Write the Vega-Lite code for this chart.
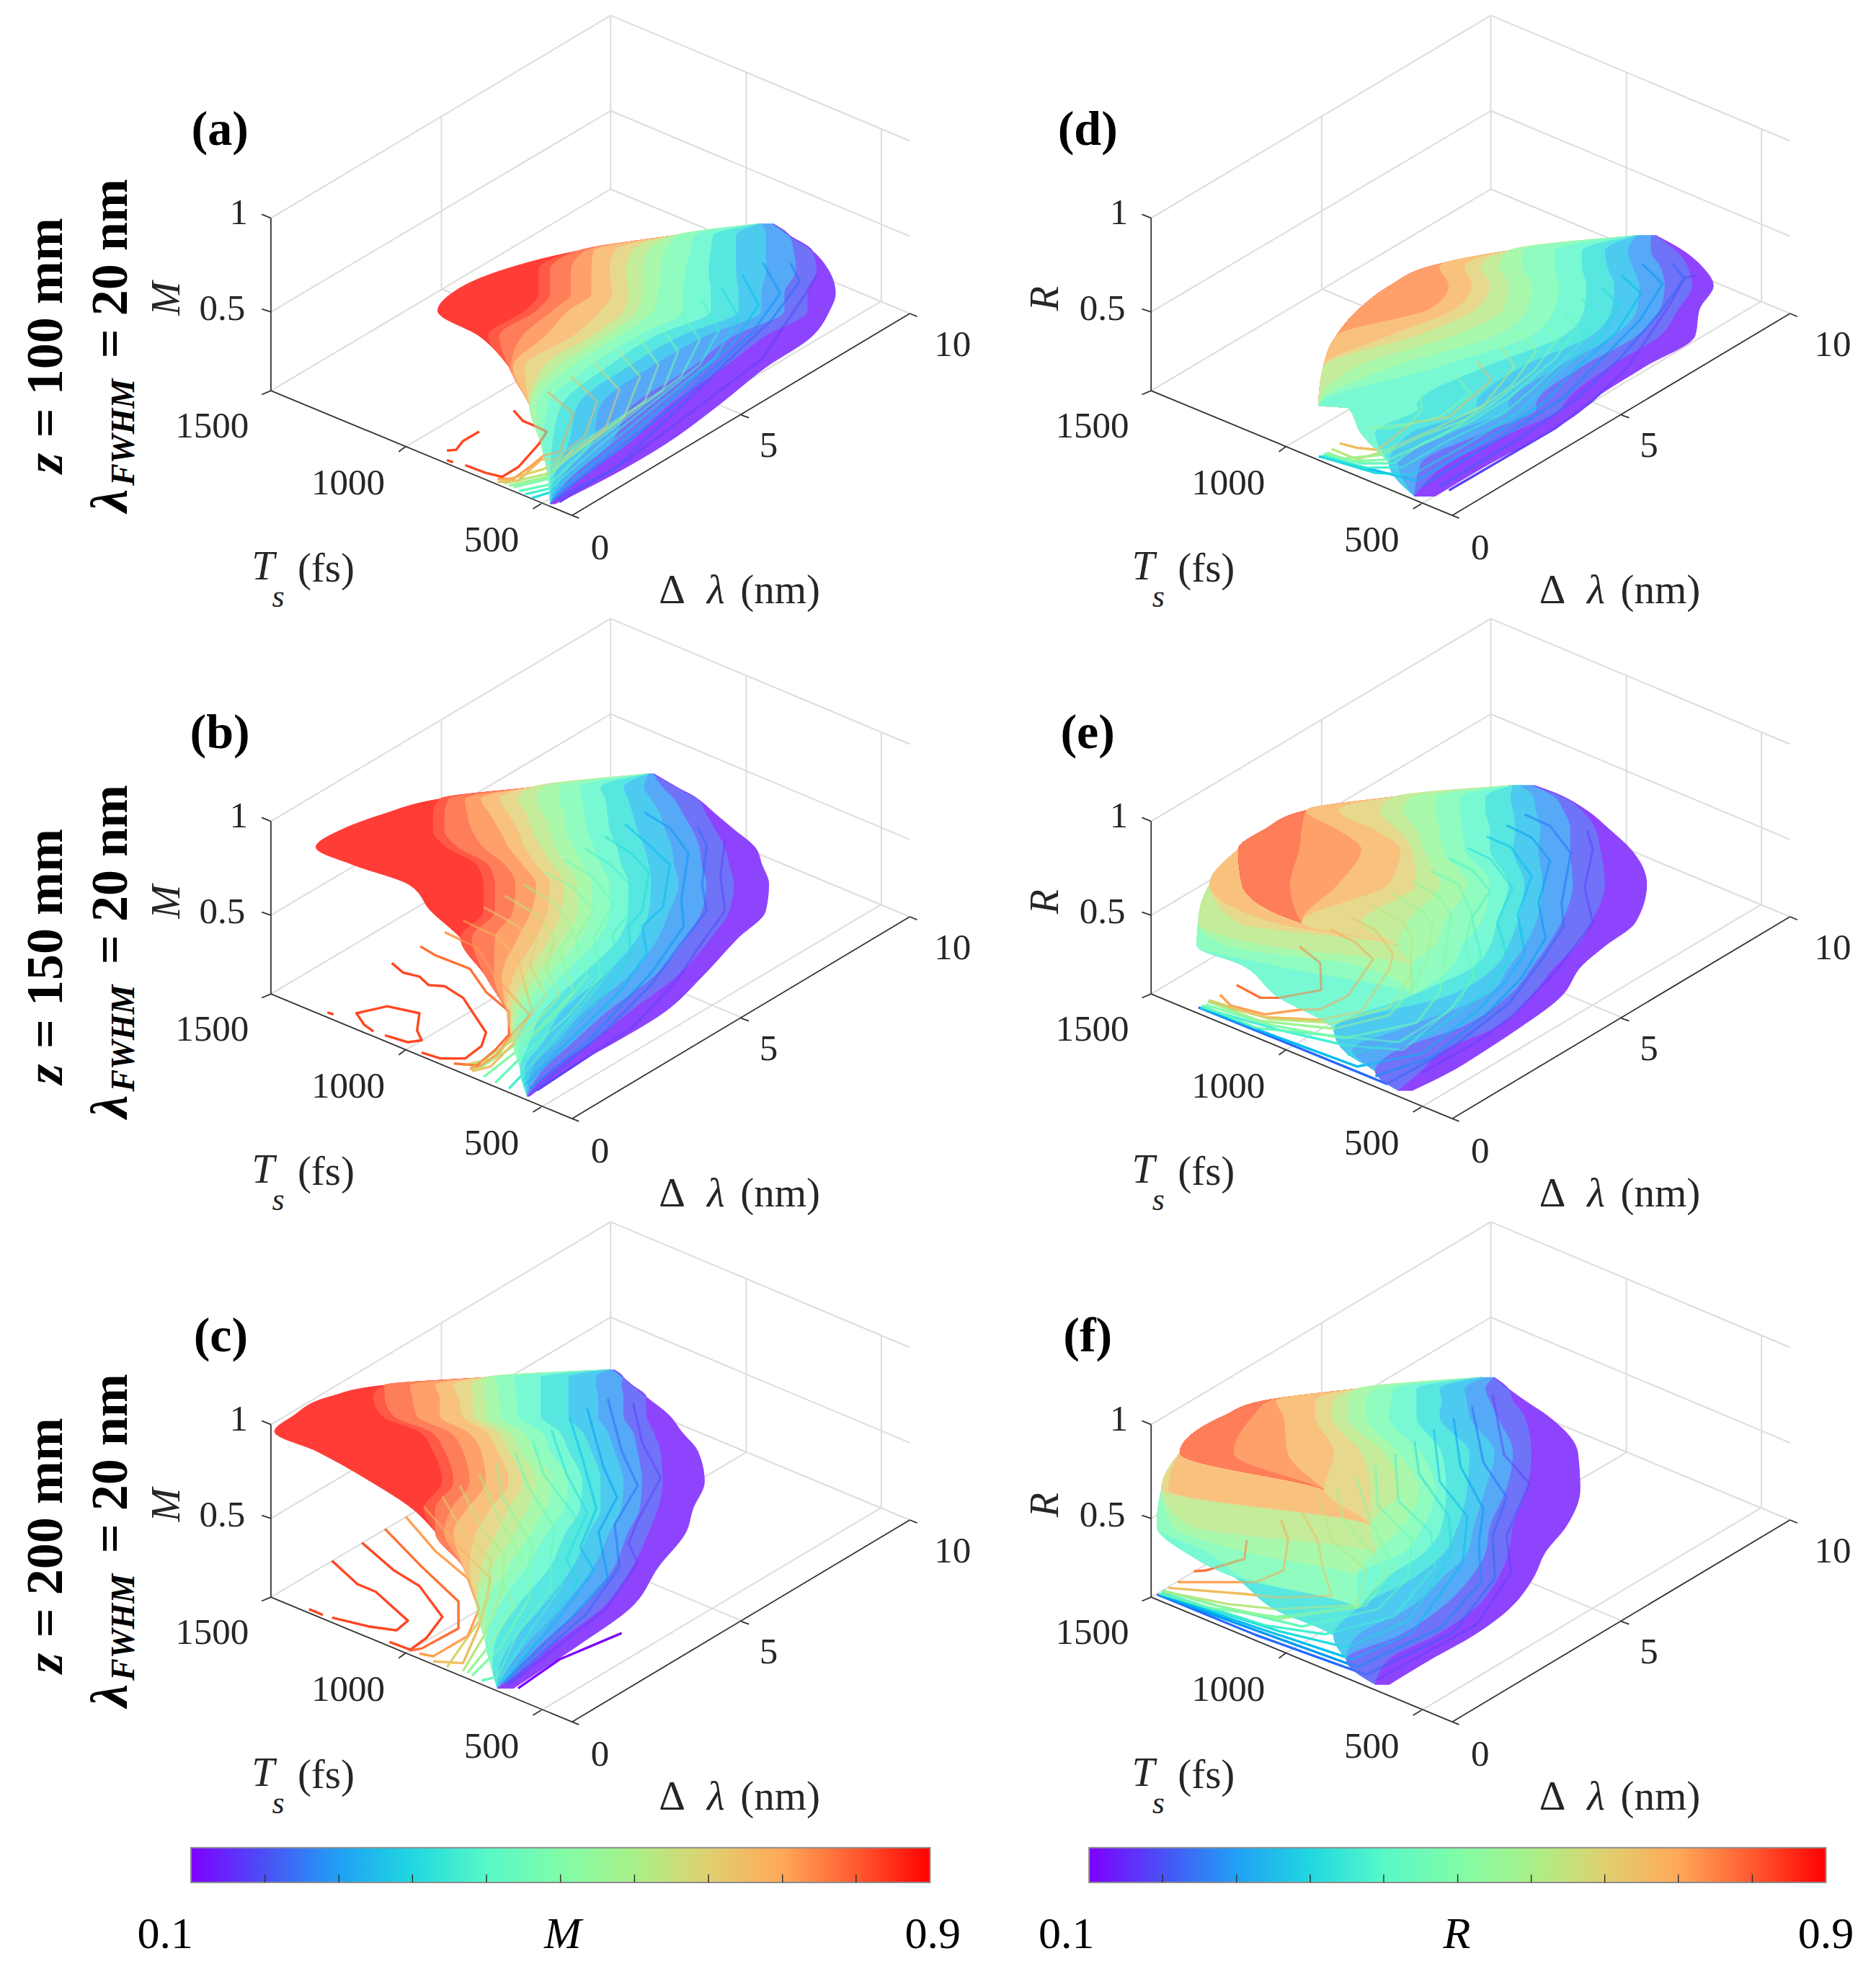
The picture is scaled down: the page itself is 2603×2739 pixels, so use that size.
{
"$schema":"https://vega.github.io/schema/vega-lite/v6.json",
"padding":0,
"background":"white",
"config":{"font":"Liberation Serif","view":{"stroke":null}},
"data":{"values":[
{"p":"a","y":580,"h86":1135,"hb":1135,"i78":1135,"ib":1135,"j72":1135,"k66":1135,"l60":1135,"m54":1135,"n48":1135,"o42":1135,"p36":1135,"q30":1135,"r24":1140,"s18":1165,"t12":1165,"z00":1165},
{"p":"a","y":610,"h86":950,"hb":950,"i78":950,"ib":950,"j72":950,"k66":950,"l60":950,"m54":950,"n48":960,"o42":995,"p36":1035,"q30":1085,"r24":1150,"s18":1200,"t12":1200,"z00":1200},
{"p":"a","y":650,"h86":740,"hb":740,"i78":740,"ib":757,"j72":775,"k66":820,"l60":860,"m54":895,"n48":930,"o42":985,"p36":1030,"q30":1085,"r24":1150,"s18":1210,"t12":1250,"z00":1250},
{"p":"a","y":700,"h86":575,"hb":655,"i78":680,"ib":725,"j72":770,"k66":810,"l60":845,"m54":880,"n48":920,"o42":975,"p36":1025,"q30":1085,"r24":1150,"s18":1215,"t12":1260,"z00":1285},
{"p":"a","y":760,"h86":465,"hb":655,"i78":680,"ib":725,"j72":770,"k66":815,"l60":850,"m54":880,"n48":915,"o42":970,"p36":1030,"q30":1090,"r24":1140,"s18":1190,"t12":1240,"z00":1300},
{"p":"a","y":805,"h86":435,"hb":625,"i78":650,"ib":685,"j72":720,"k66":790,"l60":840,"m54":870,"n48":905,"o42":970,"p36":1030,"q30":1090,"r24":1140,"s18":1190,"t12":1240,"z00":1287},
{"p":"a","y":870,"h86":525,"hb":545,"i78":570,"ib":620,"j72":670,"k66":730,"l60":770,"m54":800,"n48":830,"o42":870,"p36":910,"q30":965,"r24":1020,"s18":1080,"t12":1150,"z00":1250},
{"p":"a","y":950,"h86":590,"hb":590,"i78":590,"ib":595,"j72":600,"k66":625,"l60":665,"m54":695,"n48":725,"o42":765,"p36":805,"q30":850,"r24":900,"s18":990,"t12":1060,"z00":1150},
{"p":"a","y":1050,"h86":635,"hb":635,"i78":635,"ib":635,"j72":635,"k66":635,"l60":635,"m54":635,"n48":650,"o42":675,"p36":705,"q30":740,"r24":790,"s18":860,"t12":940,"z00":1045},
{"p":"a","y":1150,"h86":660,"hb":660,"i78":660,"ib":660,"j72":660,"k66":660,"l60":660,"m54":660,"n48":660,"o42":665,"p36":685,"q30":720,"r24":770,"s18":810,"t12":850,"z00":930},
{"p":"a","y":1230,"h86":675,"hb":675,"i78":675,"ib":675,"j72":675,"k66":675,"l60":675,"m54":675,"n48":675,"o42":675,"p36":680,"q30":690,"r24":710,"s18":730,"t12":755,"z00":815},
{"p":"a","y":1305,"h86":680,"hb":680,"i78":680,"ib":680,"j72":680,"k66":680,"l60":680,"m54":680,"n48":680,"o42":680,"p36":680,"q30":680,"r24":680,"s18":680,"t12":680,"z00":690},

{"p":"b","y":442,"h86":895,"hb":895,"i78":895,"ib":895,"j72":895,"k66":895,"l60":895,"m54":895,"n48":895,"o42":895,"p36":895,"q30":895,"r24":895,"s18":905,"t12":905,"z00":905},
{"p":"b","y":477,"h86":640,"hb":640,"i78":640,"ib":640,"j72":640,"k66":640,"l60":640,"m54":665,"n48":700,"o42":745,"p36":790,"q30":840,"r24":885,"s18":925,"t12":955,"z00":955},
{"p":"b","y":507,"h86":440,"hb":440,"i78":460,"ib":495,"j72":530,"k66":570,"l60":610,"m54":650,"n48":700,"o42":750,"p36":800,"q30":850,"r24":900,"s18":950,"t12":1000,"z00":1000},
{"p":"b","y":547,"h86":315,"hb":425,"i78":450,"ib":500,"j72":550,"k66":590,"l60":630,"m54":665,"n48":710,"o42":755,"p36":805,"q30":860,"r24":920,"s18":970,"t12":1020,"z00":1040},
{"p":"b","y":587,"h86":225,"hb":425,"i78":450,"ib":510,"j72":570,"k66":610,"l60":640,"m54":680,"n48":715,"o42":760,"p36":810,"q30":870,"r24":930,"s18":990,"t12":1040,"z00":1080},
{"p":"b","y":632,"h86":170,"hb":455,"i78":480,"ib":535,"j72":590,"k66":625,"l60":660,"m54":690,"n48":730,"o42":775,"p36":825,"q30":885,"r24":945,"s18":1005,"t12":1060,"z00":1125},
{"p":"b","y":677,"h86":250,"hb":520,"i78":545,"ib":582,"j72":620,"k66":650,"l60":685,"m54":715,"n48":750,"o42":790,"p36":835,"q30":895,"r24":950,"s18":1010,"t12":1070,"z00":1140},
{"p":"b","y":727,"h86":370,"hb":535,"i78":560,"ib":605,"j72":650,"k66":680,"l60":710,"m54":740,"n48":770,"o42":810,"p36":850,"q30":900,"r24":960,"s18":1020,"t12":1080,"z00":1155},
{"p":"b","y":797,"h86":420,"hb":535,"i78":560,"ib":600,"j72":640,"k66":675,"l60":705,"m54":740,"n48":770,"o42":810,"p36":850,"q30":895,"r24":940,"s18":1010,"t12":1070,"z00":1148},
{"p":"b","y":867,"h86":485,"hb":485,"i78":510,"ib":560,"j72":610,"k66":650,"l60":680,"m54":710,"n48":745,"o42":785,"p36":830,"q30":870,"r24":915,"s18":975,"t12":1030,"z00":1088},
{"p":"b","y":967,"h86":540,"hb":540,"i78":540,"ib":558,"j72":575,"k66":600,"l60":625,"m54":650,"n48":675,"o42":705,"p36":745,"q30":795,"r24":850,"s18":905,"t12":955,"z00":1010},
{"p":"b","y":1057,"h86":585,"hb":585,"i78":585,"ib":585,"j72":585,"k66":585,"l60":595,"m54":605,"n48":615,"o42":635,"p36":665,"q30":705,"r24":755,"s18":805,"t12":855,"z00":930},
{"p":"b","y":1137,"h86":600,"hb":600,"i78":600,"ib":600,"j72":600,"k66":600,"l60":600,"m54":600,"n48":600,"o42":610,"p36":635,"q30":665,"r24":695,"s18":730,"t12":770,"z00":820},
{"p":"b","y":1207,"h86":615,"hb":615,"i78":615,"ib":615,"j72":615,"k66":615,"l60":615,"m54":615,"n48":615,"o42":615,"p36":615,"q30":625,"r24":640,"s18":665,"t12":685,"z00":715},
{"p":"b","y":1277,"h86":630,"hb":630,"i78":630,"ib":630,"j72":630,"k66":630,"l60":630,"m54":630,"n48":630,"o42":630,"p36":630,"q30":630,"r24":630,"s18":630,"t12":630,"z00":635},

{"p":"c","y":423,"h86":810,"hb":810,"i78":810,"ib":810,"j72":810,"k66":810,"l60":810,"m54":810,"n48":810,"o42":810,"p36":810,"q30":810,"r24":810,"s18":818,"t12":818,"z00":818},
{"p":"c","y":443,"h86":540,"hb":540,"i78":540,"ib":540,"j72":540,"k66":540,"l60":540,"m54":540,"n48":560,"o42":600,"p36":660,"q30":720,"r24":780,"s18":838,"t12":838,"z00":838},
{"p":"c","y":463,"h86":320,"hb":320,"i78":320,"ib":375,"j72":430,"k66":470,"l60":510,"m54":535,"n48":565,"o42":605,"p36":660,"q30":720,"r24":780,"s18":835,"t12":858,"z00":858},
{"p":"c","y":493,"h86":200,"hb":295,"i78":320,"ib":380,"j72":440,"k66":480,"l60":512,"m54":538,"n48":568,"o42":607,"p36":660,"q30":720,"r24":785,"s18":840,"t12":888,"z00":888},
{"p":"c","y":543,"h86":120,"hb":315,"i78":340,"ib":390,"j72":440,"k66":490,"l60":515,"m54":540,"n48":570,"o42":610,"p36":660,"q30":720,"r24":785,"s18":840,"t12":890,"z00":940},
{"p":"c","y":583,"h86":80,"hb":395,"i78":420,"ib":460,"j72":500,"k66":540,"l60":565,"m54":590,"n48":620,"o42":660,"p36":700,"q30":750,"r24":805,"s18":860,"t12":905,"z00":965},
{"p":"c","y":633,"h86":170,"hb":425,"i78":450,"ib":490,"j72":530,"k66":565,"l60":590,"m54":615,"n48":645,"o42":680,"p36":720,"q30":770,"r24":820,"s18":870,"t12":920,"z00":1000},
{"p":"c","y":713,"h86":290,"hb":445,"i78":470,"ib":505,"j72":540,"k66":590,"l60":620,"m54":650,"n48":685,"o42":720,"p36":750,"q30":790,"r24":840,"s18":880,"t12":925,"z00":1015},
{"p":"c","y":783,"h86":380,"hb":405,"i78":430,"ib":465,"j72":500,"k66":550,"l60":590,"m54":630,"n48":670,"o42":710,"p36":745,"q30":790,"r24":835,"s18":875,"t12":915,"z00":990},
{"p":"c","y":843,"h86":430,"hb":430,"i78":430,"ib":450,"j72":470,"k66":520,"l60":565,"m54":605,"n48":640,"o42":675,"p36":715,"q30":765,"r24":810,"s18":850,"t12":895,"z00":975},
{"p":"c","y":933,"h86":490,"hb":490,"i78":490,"ib":490,"j72":490,"k66":505,"l60":530,"m54":555,"n48":590,"o42":630,"p36":680,"q30":730,"r24":775,"s18":820,"t12":860,"z00":915},
{"p":"c","y":1033,"h86":520,"hb":520,"i78":520,"ib":520,"j72":520,"k66":520,"l60":520,"m54":520,"n48":540,"o42":570,"p36":610,"q30":665,"r24":710,"s18":755,"t12":800,"z00":860},
{"p":"c","y":1133,"h86":540,"hb":540,"i78":540,"ib":540,"j72":540,"k66":540,"l60":540,"m54":540,"n48":540,"o42":540,"p36":560,"q30":595,"r24":630,"s18":660,"t12":690,"z00":745},
{"p":"c","y":1193,"h86":552,"hb":552,"i78":552,"ib":552,"j72":552,"k66":552,"l60":552,"m54":552,"n48":552,"o42":552,"p36":555,"q30":570,"r24":590,"s18":610,"t12":630,"z00":670},
{"p":"c","y":1248,"h86":565,"hb":565,"i78":565,"ib":565,"j72":565,"k66":565,"l60":565,"m54":565,"n48":565,"o42":565,"p36":565,"q30":565,"r24":565,"s18":565,"t12":565,"z00":600},

{"p":"d","y":610,"h86":1130,"hb":1130,"i78":1130,"ib":1130,"j72":1130,"k66":1130,"l60":1130,"m54":1130,"n48":1130,"o42":1130,"p36":1130,"q30":1130,"r24":1130,"s18":1160,"t12":1170,"z00":1170},
{"p":"d","y":650,"h86":850,"hb":850,"i78":850,"ib":850,"j72":850,"k66":850,"l60":850,"m54":850,"n48":880,"o42":950,"p36":1010,"q30":1060,"r24":1110,"s18":1160,"t12":1215,"z00":1230},
{"p":"d","y":690,"h86":680,"hb":680,"i78":680,"ib":680,"j72":700,"k66":755,"l60":790,"m54":830,"n48":880,"o42":950,"p36":1010,"q30":1065,"r24":1120,"s18":1180,"t12":1240,"z00":1270},
{"p":"d","y":740,"h86":592,"hb":592,"i78":592,"ib":592,"j72":720,"k66":770,"l60":810,"m54":850,"n48":900,"o42":960,"p36":1020,"q30":1080,"r24":1135,"s18":1190,"t12":1250,"z00":1295},
{"p":"d","y":800,"h86":525,"hb":525,"i78":525,"ib":525,"j72":680,"k66":735,"l60":780,"m54":840,"n48":890,"o42":950,"p36":1015,"q30":1075,"r24":1130,"s18":1180,"t12":1220,"z00":1265},
{"p":"d","y":870,"h86":475,"hb":475,"i78":475,"ib":475,"j72":475,"k66":590,"l60":650,"m54":730,"n48":820,"o42":900,"p36":970,"q30":1030,"r24":1080,"s18":1130,"t12":1180,"z00":1255},
{"p":"d","y":950,"h86":447,"hb":447,"i78":447,"ib":447,"j72":447,"k66":447,"l60":447,"m54":520,"n48":600,"o42":700,"p36":800,"q30":880,"r24":960,"s18":1010,"t12":1070,"z00":1145},
{"p":"d","y":1050,"h86":437,"hb":437,"i78":437,"ib":437,"j72":437,"k66":437,"l60":437,"m54":437,"n48":437,"o42":437,"p36":650,"q30":780,"r24":850,"s18":910,"t12":970,"z00":1020},
{"p":"d","y":1056,"h86":500,"hb":500,"i78":500,"ib":500,"j72":500,"k66":500,"l60":500,"m54":500,"n48":500,"o42":500,"p36":655,"q30":785,"r24":852,"s18":912,"t12":968,"z00":1015},
{"p":"d","y":1120,"h86":528,"hb":528,"i78":528,"ib":528,"j72":528,"k66":528,"l60":528,"m54":528,"n48":528,"o42":528,"p36":560,"q30":640,"r24":730,"s18":800,"t12":860,"z00":935},
{"p":"d","y":1200,"h86":590,"hb":590,"i78":590,"ib":590,"j72":590,"k66":590,"l60":590,"m54":590,"n48":590,"o42":590,"p36":590,"q30":590,"r24":610,"s18":660,"t12":720,"z00":810},
{"p":"d","y":1285,"h86":645,"hb":645,"i78":645,"ib":645,"j72":645,"k66":645,"l60":645,"m54":645,"n48":645,"o42":645,"p36":645,"q30":645,"r24":645,"s18":645,"t12":645,"z00":690},

{"p":"e","y":472,"a36":860,"b42":860,"c48":860,"d54":860,"e60":860,"f66":860,"g72":860,"h86":860,"hb":860,"i78":860,"ib":860,"j72":860,"k66":860,"l60":860,"m54":860,"n48":860,"o42":860,"p36":860,"q30":860,"r24":875,"s18":905,"t12":905,"z00":905},
{"p":"e","y":502,"a36":600,"b42":600,"c48":600,"d54":600,"e60":600,"f66":600,"g72":600,"h86":600,"hb":600,"i78":600,"ib":600,"j72":600,"k66":600,"l60":600,"m54":640,"n48":690,"o42":745,"p36":800,"q30":855,"r24":905,"s18":950,"t12":970,"z00":970},
{"p":"e","y":537,"a36":410,"b42":410,"c48":410,"d54":410,"e60":410,"f66":410,"g72":410,"h86":410,"hb":410,"i78":410,"ib":410,"j72":410,"k66":480,"l60":570,"m54":620,"n48":690,"o42":745,"p36":800,"q30":860,"r24":910,"s18":970,"t12":1010,"z00":1020},
{"p":"e","y":587,"a36":318,"b42":318,"c48":318,"d54":318,"e60":318,"f66":318,"g72":318,"h86":318,"hb":318,"i78":318,"ib":400,"j72":480,"k66":560,"l60":610,"m54":650,"n48":700,"o42":750,"p36":810,"q30":865,"r24":920,"s18":985,"t12":1040,"z00":1070},
{"p":"e","y":637,"a36":262,"b42":262,"c48":262,"d54":262,"e60":262,"f66":262,"g72":262,"h86":262,"hb":262,"i78":262,"ib":395,"j72":530,"k66":615,"l60":640,"m54":665,"n48":705,"o42":755,"p36":810,"q30":860,"r24":915,"s18":985,"t12":1050,"z00":1115},
{"p":"e","y":727,"a36":200,"b42":200,"c48":200,"d54":200,"e60":200,"f66":200,"g72":200,"h86":270,"hb":270,"i78":270,"ib":375,"j72":480,"k66":590,"l60":650,"m54":700,"n48":760,"o42":810,"p36":850,"q30":885,"r24":925,"s18":990,"t12":1060,"z00":1150},
{"p":"e","y":827,"a36":175,"b42":175,"c48":175,"d54":175,"e60":175,"f66":260,"g72":340,"h86":400,"hb":400,"i78":400,"ib":400,"j72":400,"k66":400,"l60":530,"m54":630,"n48":710,"o42":790,"p36":825,"q30":870,"r24":910,"s18":965,"t12":1030,"z00":1125},
{"p":"e","y":887,"a36":172,"b42":172,"c48":172,"d54":240,"e60":330,"f66":610,"g72":610,"h86":610,"hb":610,"i78":610,"ib":610,"j72":610,"k66":610,"l60":610,"m54":610,"n48":690,"o42":750,"p36":810,"q30":850,"r24":885,"s18":935,"t12":1000,"z00":1060},
{"p":"e","y":937,"a36":270,"b42":270,"c48":340,"d54":520,"e60":640,"f66":640,"g72":640,"h86":640,"hb":640,"i78":640,"ib":640,"j72":640,"k66":640,"l60":640,"m54":640,"n48":640,"o42":730,"p36":780,"q30":825,"r24":855,"s18":905,"t12":955,"z00":1010},
{"p":"e","y":1017,"a36":345,"b42":345,"c48":640,"d54":640,"e60":640,"f66":640,"g72":640,"h86":640,"hb":640,"i78":640,"ib":640,"j72":640,"k66":640,"l60":640,"m54":640,"n48":640,"o42":640,"p36":640,"q30":720,"r24":800,"s18":850,"t12":900,"z00":965},
{"p":"e","y":1102,"a36":470,"b42":470,"c48":470,"d54":470,"e60":470,"f66":470,"g72":470,"h86":470,"hb":470,"i78":470,"ib":470,"j72":470,"k66":470,"l60":470,"m54":470,"n48":470,"o42":470,"p36":470,"q30":470,"r24":620,"s18":740,"t12":820,"z00":870},
{"p":"e","y":1157,"a36":490,"b42":490,"c48":490,"d54":490,"e60":490,"f66":490,"g72":490,"h86":490,"hb":490,"i78":490,"ib":490,"j72":490,"k66":490,"l60":490,"m54":490,"n48":490,"o42":490,"p36":490,"q30":490,"r24":510,"s18":610,"t12":710,"z00":800},
{"p":"e","y":1212,"a36":560,"b42":560,"c48":560,"d54":560,"e60":560,"f66":560,"g72":560,"h86":560,"hb":560,"i78":560,"ib":560,"j72":560,"k66":560,"l60":560,"m54":560,"n48":560,"o42":560,"p36":560,"q30":560,"r24":560,"s18":560,"t12":660,"z00":725},
{"p":"e","y":1262,"a36":610,"b42":610,"c48":610,"d54":610,"e60":610,"f66":610,"g72":610,"h86":610,"hb":610,"i78":610,"ib":610,"j72":610,"k66":610,"l60":610,"m54":610,"n48":610,"o42":610,"p36":610,"q30":610,"r24":610,"s18":610,"t12":610,"z00":640},

{"p":"f","y":443,"a36":790,"b42":790,"c48":790,"d54":790,"e60":790,"f66":790,"g72":790,"h86":790,"hb":790,"i78":790,"ib":790,"j72":790,"k66":790,"l60":790,"m54":790,"n48":790,"o42":790,"p36":790,"q30":790,"r24":800,"s18":818,"t12":818,"z00":818},
{"p":"f","y":473,"a36":520,"b42":520,"c48":520,"d54":520,"e60":520,"f66":520,"g72":520,"h86":520,"hb":520,"i78":520,"ib":520,"j72":520,"k66":520,"l60":520,"m54":520,"n48":560,"o42":600,"p36":650,"q30":700,"r24":755,"s18":800,"t12":850,"z00":850},
{"p":"f","y":503,"a36":320,"b42":320,"c48":320,"d54":320,"e60":320,"f66":320,"g72":320,"h86":320,"hb":320,"i78":320,"ib":332,"j72":345,"k66":430,"l60":470,"m54":500,"n48":540,"o42":595,"p36":650,"q30":705,"r24":760,"s18":810,"t12":860,"z00":885},
{"p":"f","y":543,"a36":230,"b42":230,"c48":230,"d54":230,"e60":230,"f66":230,"g72":230,"h86":230,"hb":230,"i78":230,"ib":295,"j72":360,"k66":430,"l60":465,"m54":500,"n48":540,"o42":590,"p36":650,"q30":700,"r24":765,"s18":825,"t12":885,"z00":935},
{"p":"f","y":638,"a36":135,"b42":135,"c48":135,"d54":135,"e60":135,"f66":135,"g72":135,"h86":135,"hb":135,"i78":135,"ib":252,"j72":370,"k66":470,"l60":530,"m54":580,"n48":610,"o42":660,"p36":705,"q30":765,"r24":820,"s18":860,"t12":900,"z00":1000},
{"p":"f","y":733,"a36":95,"b42":95,"c48":95,"d54":95,"e60":95,"f66":95,"g72":110,"h86":450,"hb":450,"i78":450,"ib":450,"j72":450,"k66":450,"l60":550,"m54":615,"n48":655,"o42":690,"p36":715,"q30":760,"r24":800,"s18":845,"t12":890,"z00":1005},
{"p":"f","y":828,"a36":85,"b42":85,"c48":85,"d54":120,"e60":160,"f66":550,"g72":550,"h86":550,"hb":550,"i78":550,"ib":550,"j72":550,"k66":550,"l60":550,"m54":550,"n48":620,"o42":665,"p36":705,"q30":740,"r24":775,"s18":810,"t12":860,"z00":975},
{"p":"f","y":898,"a36":150,"b42":150,"c48":200,"d54":290,"e60":560,"f66":560,"g72":560,"h86":560,"hb":560,"i78":560,"ib":560,"j72":560,"k66":560,"l60":560,"m54":560,"n48":560,"o42":620,"p36":665,"q30":710,"r24":760,"s18":800,"t12":850,"z00":928},
{"p":"f","y":958,"a36":250,"b42":250,"c48":270,"d54":520,"e60":520,"f66":520,"g72":520,"h86":520,"hb":520,"i78":520,"ib":520,"j72":520,"k66":520,"l60":520,"m54":520,"n48":520,"o42":520,"p36":590,"q30":650,"r24":710,"s18":770,"t12":830,"z00":905},
{"p":"f","y":1043,"a36":340,"b42":520,"c48":520,"d54":520,"e60":520,"f66":520,"g72":520,"h86":520,"hb":520,"i78":520,"ib":520,"j72":520,"k66":520,"l60":520,"m54":520,"n48":520,"o42":520,"p36":520,"q30":520,"r24":630,"s18":700,"t12":775,"z00":850},
{"p":"f","y":1113,"a36":470,"b42":470,"c48":470,"d54":470,"e60":470,"f66":470,"g72":470,"h86":470,"hb":470,"i78":470,"ib":470,"j72":470,"k66":470,"l60":470,"m54":470,"n48":470,"o42":470,"p36":470,"q30":470,"r24":520,"s18":610,"t12":690,"z00":770},
{"p":"f","y":1173,"a36":497,"b42":497,"c48":497,"d54":497,"e60":497,"f66":497,"g72":497,"h86":497,"hb":497,"i78":497,"ib":497,"j72":497,"k66":497,"l60":497,"m54":497,"n48":497,"o42":497,"p36":497,"q30":497,"r24":497,"s18":497,"t12":590,"z00":680},
{"p":"f","y":1238,"a36":560,"b42":560,"c48":560,"d54":560,"e60":560,"f66":560,"g72":560,"h86":560,"hb":560,"i78":560,"ib":560,"j72":560,"k66":560,"l60":560,"m54":560,"n48":560,"o42":560,"p36":560,"q30":560,"r24":560,"s18":560,"t12":560,"z00":590},

{"p":"a","c":15,"x":1260,"y":712},{"p":"a","c":15,"x":1230,"y":770},{"p":"a","c":15,"x":1140,"y":930},{"p":"a","c":15,"x":850,"y":1190},{"p":"a","c":15,"x":700,"y":1300},
{"p":"a","c":20,"x":1203,"y":682},{"p":"a","c":20,"x":1222,"y":730},{"p":"a","c":20,"x":1160,"y":830},{"p":"a","c":20,"x":1000,"y":1010},{"p":"a","c":20,"x":820,"y":1215},{"p":"a","c":20,"x":690,"y":1295},
{"p":"a","c":25,"x":1142,"y":680},{"p":"a","c":25,"x":1180,"y":760},{"p":"a","c":25,"x":1120,"y":860},{"p":"a","c":25,"x":950,"y":1050},{"p":"a","c":25,"x":685,"y":1295},
{"p":"a","c":30,"x":1097,"y":710},{"p":"a","c":30,"x":1133,"y":790},{"p":"a","c":30,"x":1080,"y":885},{"p":"a","c":30,"x":900,"y":1080},{"p":"a","c":30,"x":685,"y":1285},
{"p":"a","c":35,"x":1052,"y":745},{"p":"a","c":35,"x":1090,"y":822},{"p":"a","c":35,"x":1040,"y":925},{"p":"a","c":35,"x":850,"y":1110},{"p":"a","c":35,"x":680,"y":1275},{"p":"a","c":35,"x":640,"y":1290},
{"p":"a","c":40,"x":1008,"y":775},{"p":"a","c":40,"x":1047,"y":855},{"p":"a","c":40,"x":1005,"y":945},{"p":"a","c":40,"x":800,"y":1140},{"p":"a","c":40,"x":680,"y":1265},{"p":"a","c":40,"x":625,"y":1280},
{"p":"a","c":45,"x":963,"y":808},{"p":"a","c":45,"x":1005,"y":880},{"p":"a","c":45,"x":965,"y":975},{"p":"a","c":45,"x":760,"y":1160},{"p":"a","c":45,"x":678,"y":1255},{"p":"a","c":45,"x":612,"y":1272},
{"p":"a","c":50,"x":918,"y":840},{"p":"a","c":50,"x":958,"y":910},{"p":"a","c":50,"x":925,"y":1010},{"p":"a","c":50,"x":730,"y":1160},{"p":"a","c":50,"x":676,"y":1240},{"p":"a","c":50,"x":600,"y":1262},
{"p":"a","c":55,"x":870,"y":870},{"p":"a","c":55,"x":915,"y":945},{"p":"a","c":55,"x":885,"y":1040},{"p":"a","c":55,"x":715,"y":1190},{"p":"a","c":55,"x":672,"y":1235},{"p":"a","c":55,"x":590,"y":1258},
{"p":"a","c":60,"x":825,"y":905},{"p":"a","c":60,"x":875,"y":975},{"p":"a","c":60,"x":840,"y":1080},{"p":"a","c":60,"x":700,"y":1200},{"p":"a","c":60,"x":670,"y":1228},{"p":"a","c":60,"x":580,"y":1252},
{"p":"a","c":65,"x":775,"y":940},{"p":"a","c":65,"x":830,"y":1010},{"p":"a","c":65,"x":800,"y":1110},{"p":"a","c":65,"x":690,"y":1200},{"p":"a","c":65,"x":665,"y":1215},{"p":"a","c":65,"x":570,"y":1248},
{"p":"a","c":70,"x":725,"y":975},{"p":"a","c":70,"x":782,"y":1040},{"p":"a","c":70,"x":755,"y":1130},{"p":"a","c":70,"x":690,"y":1190},{"p":"a","c":70,"x":660,"y":1190},{"p":"a","c":70,"x":610,"y":1245},{"p":"a","c":70,"x":565,"y":1248},
{"p":"a","c":75,"x":675,"y":1015},{"p":"a","c":75,"x":730,"y":1072},{"p":"a","c":75,"x":700,"y":1170},{"p":"a","c":75,"x":665,"y":1180},{"p":"a","c":75,"x":640,"y":1205},{"p":"a","c":75,"x":600,"y":1240},{"p":"a","c":75,"x":565,"y":1240},
{"p":"a","c":85,"x":600,"y":1063},{"p":"a","c":85,"x":620,"y":1090},{"p":"a","c":85,"x":650,"y":1105},{"p":"a","c":85,"x":672,"y":1118},{"p":"a","c":85,"x":655,"y":1150},{"p":"a","c":85,"x":610,"y":1210},{"p":"a","c":85,"x":575,"y":1235},{"p":"a","c":85,"x":540,"y":1225},{"p":"a","c":85,"x":495,"y":1205},
{"p":"a","c":85.1,"x":455,"y":1167},{"p":"a","c":85.1,"x":475,"y":1165},{"p":"a","c":85.1,"x":490,"y":1142},{"p":"a","c":85.1,"x":525,"y":1118},
{"p":"a","c":85.2,"x":455,"y":1192},{"p":"a","c":85.2,"x":468,"y":1197},

{"p":"b","c":15,"x":1060,"y":612},{"p":"b","c":15,"x":1050,"y":707},{"p":"b","c":15,"x":1060,"y":797},{"p":"b","c":15,"x":1005,"y":887},{"p":"b","c":15,"x":955,"y":977},{"p":"b","c":15,"x":860,"y":1097},{"p":"b","c":15,"x":650,"y":1262},
{"p":"b","c":20,"x":1000,"y":579},{"p":"b","c":20,"x":1020,"y":627},{"p":"b","c":20,"x":1010,"y":727},{"p":"b","c":20,"x":1020,"y":797},{"p":"b","c":20,"x":960,"y":887},{"p":"b","c":20,"x":900,"y":987},{"p":"b","c":20,"x":800,"y":1107},{"p":"b","c":20,"x":640,"y":1267},
{"p":"b","c":25,"x":885,"y":542},{"p":"b","c":25,"x":940,"y":582},{"p":"b","c":25,"x":980,"y":647},{"p":"b","c":25,"x":965,"y":767},{"p":"b","c":25,"x":970,"y":837},{"p":"b","c":25,"x":900,"y":957},{"p":"b","c":25,"x":760,"y":1137},{"p":"b","c":25,"x":635,"y":1257},
{"p":"b","c":30,"x":842,"y":572},{"p":"b","c":30,"x":895,"y":627},{"p":"b","c":30,"x":940,"y":677},{"p":"b","c":30,"x":925,"y":787},{"p":"b","c":30,"x":880,"y":837},{"p":"b","c":30,"x":890,"y":907},{"p":"b","c":30,"x":830,"y":1007},{"p":"b","c":30,"x":700,"y":1157},{"p":"b","c":30,"x":625,"y":1247},
{"p":"b","c":35,"x":798,"y":604},{"p":"b","c":35,"x":855,"y":647},{"p":"b","c":35,"x":895,"y":697},{"p":"b","c":35,"x":880,"y":797},{"p":"b","c":35,"x":850,"y":837},{"p":"b","c":35,"x":855,"y":907},{"p":"b","c":35,"x":800,"y":1007},{"p":"b","c":35,"x":660,"y":1187},{"p":"b","c":35,"x":620,"y":1237},
{"p":"b","c":40,"x":755,"y":635},{"p":"b","c":40,"x":810,"y":677},{"p":"b","c":40,"x":860,"y":737},{"p":"b","c":40,"x":850,"y":807},{"p":"b","c":40,"x":815,"y":857},{"p":"b","c":40,"x":825,"y":927},{"p":"b","c":40,"x":760,"y":1027},{"p":"b","c":40,"x":630,"y":1207},{"p":"b","c":40,"x":590,"y":1257},
{"p":"b","c":45,"x":712,"y":665},{"p":"b","c":45,"x":770,"y":707},{"p":"b","c":45,"x":818,"y":777},{"p":"b","c":45,"x":775,"y":867},{"p":"b","c":45,"x":790,"y":967},{"p":"b","c":45,"x":720,"y":1067},{"p":"b","c":45,"x":615,"y":1177},{"p":"b","c":45,"x":560,"y":1242},
{"p":"b","c":50,"x":668,"y":697},{"p":"b","c":50,"x":730,"y":737},{"p":"b","c":50,"x":775,"y":797},{"p":"b","c":50,"x":735,"y":867},{"p":"b","c":50,"x":760,"y":967},{"p":"b","c":50,"x":690,"y":1067},{"p":"b","c":50,"x":610,"y":1157},{"p":"b","c":50,"x":535,"y":1227},
{"p":"b","c":55,"x":622,"y":729},{"p":"b","c":55,"x":690,"y":777},{"p":"b","c":55,"x":730,"y":847},{"p":"b","c":55,"x":700,"y":897},{"p":"b","c":55,"x":730,"y":1007},{"p":"b","c":55,"x":650,"y":1107},{"p":"b","c":55,"x":600,"y":1147},{"p":"b","c":55,"x":515,"y":1212},
{"p":"b","c":60,"x":580,"y":757},{"p":"b","c":60,"x":650,"y":807},{"p":"b","c":60,"x":690,"y":867},{"p":"b","c":60,"x":670,"y":947},{"p":"b","c":60,"x":700,"y":1017},{"p":"b","c":60,"x":640,"y":1097},{"p":"b","c":60,"x":595,"y":1135},{"p":"b","c":60,"x":505,"y":1205},
{"p":"b","c":65,"x":535,"y":787},{"p":"b","c":65,"x":610,"y":837},{"p":"b","c":65,"x":650,"y":877},{"p":"b","c":65,"x":635,"y":937},{"p":"b","c":65,"x":670,"y":1017},{"p":"b","c":65,"x":625,"y":1085},{"p":"b","c":65,"x":560,"y":1177},{"p":"b","c":65,"x":490,"y":1197},
{"p":"b","c":70,"x":490,"y":822},{"p":"b","c":70,"x":570,"y":867},{"p":"b","c":70,"x":610,"y":927},{"p":"b","c":70,"x":640,"y":1057},{"p":"b","c":70,"x":600,"y":1140},{"p":"b","c":70,"x":550,"y":1200},{"p":"b","c":70,"x":510,"y":1212},
{"p":"b","c":75,"x":450,"y":852},{"p":"b","c":75,"x":520,"y":892},{"p":"b","c":75,"x":560,"y":967},{"p":"b","c":75,"x":635,"y":1067},{"p":"b","c":75,"x":595,"y":1117},{"p":"b","c":75,"x":565,"y":1167},{"p":"b","c":75,"x":530,"y":1197},{"p":"b","c":75,"x":505,"y":1207},
{"p":"b","c":80,"x":397,"y":889},{"p":"b","c":80,"x":430,"y":912},{"p":"b","c":80,"x":505,"y":947},{"p":"b","c":80,"x":540,"y":1007},{"p":"b","c":80,"x":590,"y":1057},{"p":"b","c":80,"x":590,"y":1117},{"p":"b","c":80,"x":560,"y":1157},{"p":"b","c":80,"x":520,"y":1197},{"p":"b","c":80,"x":470,"y":1192},
{"p":"b","c":85,"x":335,"y":932},{"p":"b","c":85,"x":360,"y":957},{"p":"b","c":85,"x":395,"y":967},{"p":"b","c":85,"x":415,"y":989},{"p":"b","c":85,"x":450,"y":992},{"p":"b","c":85,"x":490,"y":1022},{"p":"b","c":85,"x":515,"y":1067},{"p":"b","c":85,"x":540,"y":1112},{"p":"b","c":85,"x":530,"y":1147},{"p":"b","c":85,"x":495,"y":1179},{"p":"b","c":85,"x":440,"y":1179},{"p":"b","c":85,"x":400,"y":1164},
{"p":"b","c":85.1,"x":295,"y":1109},{"p":"b","c":85.1,"x":275,"y":1092},{"p":"b","c":85.1,"x":258,"y":1062},{"p":"b","c":85.1,"x":325,"y":1044},{"p":"b","c":85.1,"x":395,"y":1062},{"p":"b","c":85.1,"x":390,"y":1107},{"p":"b","c":85.1,"x":400,"y":1132},{"p":"b","c":85.1,"x":370,"y":1137},{"p":"b","c":85.1,"x":320,"y":1119},
{"p":"b","c":85.2,"x":195,"y":1060},{"p":"b","c":85.2,"x":208,"y":1065},

{"p":"c","c":10,"x":610,"y":1248},{"p":"c","c":10,"x":700,"y":1173},{"p":"c","c":10,"x":760,"y":1143},{"p":"c","c":10,"x":835,"y":1105},
{"p":"c","c":15,"x":860,"y":510},{"p":"c","c":15,"x":880,"y":613},{"p":"c","c":15,"x":920,"y":703},{"p":"c","c":15,"x":870,"y":813},{"p":"c","c":15,"x":850,"y":873},{"p":"c","c":15,"x":870,"y":923},{"p":"c","c":15,"x":800,"y":1043},{"p":"c","c":15,"x":590,"y":1238},
{"p":"c","c":20,"x":805,"y":498},{"p":"c","c":20,"x":835,"y":633},{"p":"c","c":20,"x":870,"y":723},{"p":"c","c":20,"x":820,"y":823},{"p":"c","c":20,"x":830,"y":933},{"p":"c","c":20,"x":760,"y":1053},{"p":"c","c":20,"x":585,"y":1238},
{"p":"c","c":25,"x":760,"y":523},{"p":"c","c":25,"x":795,"y":673},{"p":"c","c":25,"x":825,"y":753},{"p":"c","c":25,"x":785,"y":843},{"p":"c","c":25,"x":805,"y":963},{"p":"c","c":25,"x":720,"y":1073},{"p":"c","c":25,"x":580,"y":1233},
{"p":"c","c":30,"x":722,"y":548},{"p":"c","c":30,"x":750,"y":653},{"p":"c","c":30,"x":780,"y":783},{"p":"c","c":30,"x":745,"y":883},{"p":"c","c":30,"x":775,"y":943},{"p":"c","c":30,"x":700,"y":1063},{"p":"c","c":30,"x":578,"y":1231},
{"p":"c","c":35,"x":682,"y":578},{"p":"c","c":35,"x":715,"y":693},{"p":"c","c":35,"x":760,"y":793},{"p":"c","c":35,"x":715,"y":913},{"p":"c","c":35,"x":740,"y":973},{"p":"c","c":35,"x":680,"y":1073},{"p":"c","c":35,"x":575,"y":1228},
{"p":"c","c":40,"x":642,"y":608},{"p":"c","c":40,"x":665,"y":693},{"p":"c","c":40,"x":740,"y":813},{"p":"c","c":40,"x":700,"y":923},{"p":"c","c":40,"x":705,"y":983},{"p":"c","c":40,"x":640,"y":1093},{"p":"c","c":40,"x":570,"y":1223},
{"p":"c","c":45,"x":603,"y":635},{"p":"c","c":45,"x":630,"y":723},{"p":"c","c":45,"x":690,"y":833},{"p":"c","c":45,"x":680,"y":913},{"p":"c","c":45,"x":680,"y":993},{"p":"c","c":45,"x":610,"y":1103},{"p":"c","c":45,"x":565,"y":1218},{"p":"c","c":45,"x":530,"y":1228},
{"p":"c","c":50,"x":562,"y":663},{"p":"c","c":50,"x":575,"y":753},{"p":"c","c":50,"x":640,"y":873},{"p":"c","c":50,"x":630,"y":963},{"p":"c","c":50,"x":635,"y":1013},{"p":"c","c":50,"x":570,"y":1143},{"p":"c","c":50,"x":510,"y":1215},
{"p":"c","c":55,"x":525,"y":693},{"p":"c","c":55,"x":570,"y":813},{"p":"c","c":55,"x":620,"y":913},{"p":"c","c":55,"x":575,"y":973},{"p":"c","c":55,"x":600,"y":1033},{"p":"c","c":55,"x":550,"y":1133},{"p":"c","c":55,"x":500,"y":1208},
{"p":"c","c":60,"x":483,"y":723},{"p":"c","c":60,"x":530,"y":833},{"p":"c","c":60,"x":580,"y":903},{"p":"c","c":60,"x":575,"y":993},{"p":"c","c":60,"x":540,"y":1103},{"p":"c","c":60,"x":490,"y":1203},
{"p":"c","c":65,"x":445,"y":751},{"p":"c","c":65,"x":490,"y":843},{"p":"c","c":65,"x":550,"y":913},{"p":"c","c":65,"x":545,"y":1013},{"p":"c","c":65,"x":525,"y":1073},{"p":"c","c":65,"x":455,"y":1193},
{"p":"c","c":70,"x":405,"y":778},{"p":"c","c":70,"x":490,"y":893},{"p":"c","c":70,"x":550,"y":963},{"p":"c","c":70,"x":530,"y":1073},{"p":"c","c":70,"x":490,"y":1183},{"p":"c","c":70,"x":425,"y":1178},
{"p":"c","c":75,"x":365,"y":803},{"p":"c","c":75,"x":430,"y":893},{"p":"c","c":75,"x":500,"y":963},{"p":"c","c":75,"x":525,"y":1043},{"p":"c","c":75,"x":500,"y":1113},{"p":"c","c":75,"x":425,"y":1165},{"p":"c","c":75,"x":395,"y":1158},
{"p":"c","c":80,"x":320,"y":835},{"p":"c","c":80,"x":400,"y":933},{"p":"c","c":80,"x":480,"y":1023},{"p":"c","c":80,"x":480,"y":1093},{"p":"c","c":80,"x":400,"y":1145},{"p":"c","c":80,"x":375,"y":1150},
{"p":"c","c":85,"x":270,"y":871},{"p":"c","c":85,"x":340,"y":943},{"p":"c","c":85,"x":395,"y":983},{"p":"c","c":85,"x":445,"y":1063},{"p":"c","c":85,"x":410,"y":1118},{"p":"c","c":85,"x":375,"y":1148},{"p":"c","c":85,"x":330,"y":1128},
{"p":"c","c":85.1,"x":205,"y":918},{"p":"c","c":85.1,"x":260,"y":978},{"p":"c","c":85.1,"x":300,"y":998},{"p":"c","c":85.1,"x":370,"y":1073},{"p":"c","c":85.1,"x":345,"y":1098},{"p":"c","c":85.1,"x":285,"y":1088},{"p":"c","c":85.1,"x":205,"y":1065},
{"p":"c","c":85.2,"x":155,"y":1043},{"p":"c","c":85.2,"x":185,"y":1058},

{"p":"d","c":15,"x":1260,"y":712},{"p":"d","c":15,"x":1232,"y":720},{"p":"d","c":15,"x":1200,"y":790},{"p":"d","c":15,"x":1110,"y":950},{"p":"d","c":15,"x":1030,"y":1040},{"p":"d","c":15,"x":950,"y":1110},{"p":"d","c":15,"x":720,"y":1270},
{"p":"d","c":20,"x":1205,"y":682},{"p":"d","c":20,"x":1232,"y":720},{"p":"d","c":20,"x":1185,"y":800},{"p":"d","c":20,"x":1090,"y":930},{"p":"d","c":20,"x":1000,"y":1030},{"p":"d","c":20,"x":880,"y":1130},{"p":"d","c":20,"x":700,"y":1260},
{"p":"d","c":25,"x":1140,"y":683},{"p":"d","c":25,"x":1185,"y":735},{"p":"d","c":25,"x":1135,"y":830},{"p":"d","c":25,"x":1060,"y":920},{"p":"d","c":25,"x":970,"y":1030},{"p":"d","c":25,"x":850,"y":1120},{"p":"d","c":25,"x":660,"y":1260},
{"p":"d","c":30,"x":1095,"y":713},{"p":"d","c":30,"x":1138,"y":760},{"p":"d","c":30,"x":1085,"y":860},{"p":"d","c":30,"x":1000,"y":950},{"p":"d","c":30,"x":930,"y":1040},{"p":"d","c":30,"x":800,"y":1140},{"p":"d","c":30,"x":650,"y":1245},{"p":"d","c":30,"x":437,"y":1182},
{"p":"d","c":35,"x":1052,"y":745},{"p":"d","c":35,"x":1090,"y":790},{"p":"d","c":35,"x":1045,"y":880},{"p":"d","c":35,"x":950,"y":970},{"p":"d","c":35,"x":880,"y":1060},{"p":"d","c":35,"x":760,"y":1150},{"p":"d","c":35,"x":640,"y":1230},{"p":"d","c":35,"x":560,"y":1225},{"p":"d","c":35,"x":440,"y":1182},
{"p":"d","c":40,"x":1010,"y":775},{"p":"d","c":40,"x":1045,"y":820},{"p":"d","c":40,"x":998,"y":900},{"p":"d","c":40,"x":900,"y":1010},{"p":"d","c":40,"x":840,"y":1070},{"p":"d","c":40,"x":720,"y":1140},{"p":"d","c":40,"x":620,"y":1210},{"p":"d","c":40,"x":540,"y":1212},{"p":"d","c":40,"x":445,"y":1180},
{"p":"d","c":45,"x":968,"y":805},{"p":"d","c":45,"x":1000,"y":850},{"p":"d","c":45,"x":950,"y":930},{"p":"d","c":45,"x":850,"y":1030},{"p":"d","c":45,"x":770,"y":1090},{"p":"d","c":45,"x":660,"y":1150},{"p":"d","c":45,"x":600,"y":1200},{"p":"d","c":45,"x":530,"y":1200},{"p":"d","c":45,"x":448,"y":1176},
{"p":"d","c":50,"x":925,"y":835},{"p":"d","c":50,"x":955,"y":880},{"p":"d","c":50,"x":905,"y":960},{"p":"d","c":50,"x":810,"y":1050},{"p":"d","c":50,"x":700,"y":1130},{"p":"d","c":50,"x":590,"y":1190},{"p":"d","c":50,"x":510,"y":1195},{"p":"d","c":50,"x":450,"y":1175},
{"p":"d","c":55,"x":882,"y":865},{"p":"d","c":55,"x":910,"y":910},{"p":"d","c":55,"x":855,"y":1000},{"p":"d","c":55,"x":750,"y":1090},{"p":"d","c":55,"x":660,"y":1130},{"p":"d","c":55,"x":575,"y":1178},{"p":"d","c":55,"x":490,"y":1188},{"p":"d","c":55,"x":455,"y":1172},
{"p":"d","c":60,"x":835,"y":900},{"p":"d","c":60,"x":862,"y":950},{"p":"d","c":60,"x":795,"y":1050},{"p":"d","c":60,"x":690,"y":1110},{"p":"d","c":60,"x":570,"y":1172},{"p":"d","c":60,"x":520,"y":1190},{"p":"d","c":60,"x":465,"y":1163},
{"p":"d","c":70,"x":783,"y":937},{"p":"d","c":70,"x":812,"y":985},{"p":"d","c":70,"x":720,"y":1080},{"p":"d","c":70,"x":640,"y":1095},{"p":"d","c":70,"x":565,"y":1165},{"p":"d","c":70,"x":520,"y":1160},{"p":"d","c":70,"x":482,"y":1148},
{"p":"d","c":52,"x":733,"y":970},{"p":"d","c":52,"x":767,"y":1020},{"p":"d","c":52,"x":700,"y":1080},{"p":"d","c":52,"x":635,"y":1098},{"p":"d","c":52,"x":545,"y":1108},
{"p":"d","c":53,"x":655,"y":1025},{"p":"d","c":53,"x":662,"y":1060},{"p":"d","c":53,"x":635,"y":1098},{"p":"d","c":53,"x":590,"y":1110},{"p":"d","c":53,"x":540,"y":1108},

{"p":"e","c":15,"x":1020,"y":587},{"p":"e","c":15,"x":1033,"y":637},{"p":"e","c":15,"x":1015,"y":737},{"p":"e","c":15,"x":1033,"y":827},{"p":"e","c":15,"x":950,"y":957},{"p":"e","c":15,"x":860,"y":1067},{"p":"e","c":15,"x":780,"y":1137},{"p":"e","c":15,"x":660,"y":1217},
{"p":"e","c":20,"x":885,"y":547},{"p":"e","c":20,"x":940,"y":577},{"p":"e","c":20,"x":985,"y":647},{"p":"e","c":20,"x":965,"y":777},{"p":"e","c":20,"x":970,"y":837},{"p":"e","c":20,"x":920,"y":927},{"p":"e","c":20,"x":850,"y":1037},{"p":"e","c":20,"x":720,"y":1157},{"p":"e","c":20,"x":585,"y":1245},{"p":"e","c":20,"x":400,"y":1155},{"p":"e","c":20,"x":175,"y":1047},
{"p":"e","c":25,"x":845,"y":575},{"p":"e","c":25,"x":900,"y":607},{"p":"e","c":25,"x":940,"y":667},{"p":"e","c":25,"x":915,"y":777},{"p":"e","c":25,"x":930,"y":867},{"p":"e","c":25,"x":880,"y":967},{"p":"e","c":25,"x":800,"y":1067},{"p":"e","c":25,"x":680,"y":1177},{"p":"e","c":25,"x":560,"y":1225},
{"p":"e","c":30,"x":802,"y":604},{"p":"e","c":30,"x":855,"y":632},{"p":"e","c":30,"x":900,"y":707},{"p":"e","c":30,"x":870,"y":807},{"p":"e","c":30,"x":885,"y":907},{"p":"e","c":30,"x":845,"y":977},{"p":"e","c":30,"x":780,"y":1057},{"p":"e","c":30,"x":660,"y":1167},{"p":"e","c":30,"x":520,"y":1200},{"p":"e","c":30,"x":350,"y":1125},{"p":"e","c":30,"x":178,"y":1048},
{"p":"e","c":35,"x":760,"y":634},{"p":"e","c":35,"x":810,"y":662},{"p":"e","c":35,"x":858,"y":737},{"p":"e","c":35,"x":825,"y":827},{"p":"e","c":35,"x":850,"y":927},{"p":"e","c":35,"x":800,"y":1007},{"p":"e","c":35,"x":680,"y":1112},{"p":"e","c":35,"x":500,"y":1170},
{"p":"e","c":40,"x":720,"y":662},{"p":"e","c":40,"x":770,"y":690},{"p":"e","c":40,"x":810,"y":745},{"p":"e","c":40,"x":770,"y":815},{"p":"e","c":40,"x":790,"y":915},{"p":"e","c":40,"x":745,"y":1027},{"p":"e","c":40,"x":620,"y":1157},{"p":"e","c":40,"x":495,"y":1145},{"p":"e","c":40,"x":350,"y":1105},{"p":"e","c":40,"x":180,"y":1047},
{"p":"e","c":45,"x":680,"y":692},{"p":"e","c":45,"x":740,"y":727},{"p":"e","c":45,"x":770,"y":807},{"p":"e","c":45,"x":755,"y":887},{"p":"e","c":45,"x":775,"y":967},{"p":"e","c":45,"x":720,"y":1057},{"p":"e","c":45,"x":610,"y":1137},{"p":"e","c":45,"x":440,"y":1117},{"p":"e","c":45,"x":300,"y":1100},{"p":"e","c":45,"x":182,"y":1042},
{"p":"e","c":50,"x":640,"y":719},{"p":"e","c":50,"x":700,"y":762},{"p":"e","c":50,"x":725,"y":807},{"p":"e","c":50,"x":715,"y":887},{"p":"e","c":50,"x":700,"y":1007},{"p":"e","c":50,"x":650,"y":1087},{"p":"e","c":50,"x":490,"y":1127},{"p":"e","c":50,"x":330,"y":1092},{"p":"e","c":50,"x":190,"y":1040},
{"p":"e","c":55,"x":597,"y":752},{"p":"e","c":55,"x":660,"y":797},{"p":"e","c":55,"x":685,"y":832},{"p":"e","c":55,"x":670,"y":927},{"p":"e","c":55,"x":640,"y":997},{"p":"e","c":55,"x":590,"y":1067},{"p":"e","c":55,"x":470,"y":1102},{"p":"e","c":55,"x":310,"y":1082},{"p":"e","c":55,"x":195,"y":1032},
{"p":"e","c":60,"x":552,"y":782},{"p":"e","c":60,"x":620,"y":827},{"p":"e","c":60,"x":640,"y":867},{"p":"e","c":60,"x":635,"y":967},{"p":"e","c":60,"x":590,"y":1047},{"p":"e","c":60,"x":470,"y":1087},{"p":"e","c":60,"x":330,"y":1077},{"p":"e","c":60,"x":198,"y":1028},
{"p":"e","c":70,"x":507,"y":814},{"p":"e","c":70,"x":560,"y":847},{"p":"e","c":70,"x":598,"y":907},{"p":"e","c":70,"x":590,"y":947},{"p":"e","c":70,"x":530,"y":1057},{"p":"e","c":70,"x":440,"y":1079},{"p":"e","c":70,"x":320,"y":1072},{"p":"e","c":70,"x":250,"y":1050},{"p":"e","c":70,"x":198,"y":1029},
{"p":"e","c":75,"x":462,"y":845},{"p":"e","c":75,"x":515,"y":877},{"p":"e","c":75,"x":555,"y":922},{"p":"e","c":75,"x":500,"y":1017},{"p":"e","c":75,"x":440,"y":1052},{"p":"e","c":75,"x":400,"y":1052},{"p":"e","c":75,"x":320,"y":1065},{"p":"e","c":75,"x":245,"y":1042},{"p":"e","c":75,"x":222,"y":1014},
{"p":"e","c":80,"x":395,"y":889},{"p":"e","c":80,"x":440,"y":932},{"p":"e","c":80,"x":442,"y":1002},{"p":"e","c":80,"x":350,"y":1022},{"p":"e","c":80,"x":310,"y":1022},{"p":"e","c":80,"x":258,"y":989},

{"p":"f","c":15,"x":815,"y":488},{"p":"f","c":15,"x":840,"y":643},{"p":"f","c":15,"x":895,"y":718},{"p":"f","c":15,"x":845,"y":853},{"p":"f","c":15,"x":855,"y":948},{"p":"f","c":15,"x":780,"y":1083},{"p":"f","c":15,"x":560,"y":1228},
{"p":"f","c":20,"x":770,"y":518},{"p":"f","c":20,"x":795,"y":663},{"p":"f","c":20,"x":845,"y":753},{"p":"f","c":20,"x":815,"y":853},{"p":"f","c":20,"x":820,"y":963},{"p":"f","c":20,"x":730,"y":1103},{"p":"f","c":20,"x":540,"y":1213},{"p":"f","c":20,"x":300,"y":1110},{"p":"f","c":20,"x":85,"y":1005},
{"p":"f","c":25,"x":730,"y":548},{"p":"f","c":25,"x":745,"y":673},{"p":"f","c":25,"x":795,"y":783},{"p":"f","c":25,"x":785,"y":873},{"p":"f","c":25,"x":790,"y":973},{"p":"f","c":25,"x":700,"y":1093},{"p":"f","c":25,"x":520,"y":1193},{"p":"f","c":25,"x":90,"y":1007},
{"p":"f","c":30,"x":687,"y":578},{"p":"f","c":30,"x":700,"y":713},{"p":"f","c":30,"x":760,"y":803},{"p":"f","c":30,"x":750,"y":923},{"p":"f","c":30,"x":640,"y":1103},{"p":"f","c":30,"x":510,"y":1173},{"p":"f","c":30,"x":300,"y":1090},{"p":"f","c":30,"x":92,"y":1005},
{"p":"f","c":35,"x":645,"y":608},{"p":"f","c":35,"x":655,"y":693},{"p":"f","c":35,"x":720,"y":803},{"p":"f","c":35,"x":725,"y":893},{"p":"f","c":35,"x":690,"y":973},{"p":"f","c":35,"x":630,"y":1073},{"p":"f","c":35,"x":500,"y":1143},{"p":"f","c":35,"x":350,"y":1100},{"p":"f","c":35,"x":95,"y":1003},
{"p":"f","c":40,"x":603,"y":641},{"p":"f","c":40,"x":610,"y":763},{"p":"f","c":40,"x":680,"y":843},{"p":"f","c":40,"x":690,"y":933},{"p":"f","c":40,"x":600,"y":1063},{"p":"f","c":40,"x":450,"y":1108},{"p":"f","c":40,"x":320,"y":1085},{"p":"f","c":40,"x":95,"y":1000},
{"p":"f","c":45,"x":560,"y":670},{"p":"f","c":45,"x":565,"y":773},{"p":"f","c":45,"x":640,"y":863},{"p":"f","c":45,"x":630,"y":963},{"p":"f","c":45,"x":565,"y":1043},{"p":"f","c":45,"x":400,"y":1088},{"p":"f","c":45,"x":250,"y":1045},{"p":"f","c":45,"x":97,"y":995},
{"p":"f","c":50,"x":518,"y":700},{"p":"f","c":50,"x":545,"y":803},{"p":"f","c":50,"x":600,"y":933},{"p":"f","c":50,"x":540,"y":1033},{"p":"f","c":50,"x":345,"y":1063},{"p":"f","c":50,"x":200,"y":1040},{"p":"f","c":50,"x":90,"y":1003},
{"p":"f","c":55,"x":477,"y":728},{"p":"f","c":55,"x":490,"y":813},{"p":"f","c":55,"x":585,"y":943},{"p":"f","c":55,"x":525,"y":1038},{"p":"f","c":55,"x":350,"y":1068},{"p":"f","c":55,"x":200,"y":1030},{"p":"f","c":55,"x":100,"y":995},
{"p":"f","c":60,"x":437,"y":755},{"p":"f","c":60,"x":465,"y":863},{"p":"f","c":60,"x":540,"y":943},{"p":"f","c":60,"x":520,"y":1033},{"p":"f","c":60,"x":345,"y":1043},{"p":"f","c":60,"x":240,"y":1030},{"p":"f","c":60,"x":100,"y":998},
{"p":"f","c":70,"x":397,"y":783},{"p":"f","c":70,"x":435,"y":868},{"p":"f","c":70,"x":445,"y":933},{"p":"f","c":70,"x":465,"y":1008},{"p":"f","c":70,"x":350,"y":1013},{"p":"f","c":70,"x":270,"y":1003},{"p":"f","c":70,"x":110,"y":988},
{"p":"f","c":75,"x":355,"y":811},{"p":"f","c":75,"x":370,"y":863},{"p":"f","c":75,"x":360,"y":943},{"p":"f","c":75,"x":300,"y":973},{"p":"f","c":75,"x":130,"y":973},
{"p":"f","c":80,"x":280,"y":865},{"p":"f","c":80,"x":275,"y":913},{"p":"f","c":80,"x":190,"y":943},{"p":"f","c":80,"x":165,"y":945},

{"p":"a","s":"l","t":"(a)","x":-39,"y":338},{"p":"b","s":"l","t":"(b)","x":-39,"y":338},{"p":"c","s":"l","t":"(c)","x":-37,"y":338},
{"p":"d","s":"l","t":"(d)","x":-66,"y":338},{"p":"e","s":"l","t":"(e)","x":-66,"y":338},{"p":"f","s":"l","t":"(f)","x":-66,"y":338},
{"p":"a","s":"ax","t":"M","x":-154,"y":773},{"p":"b","s":"ax","t":"M","x":-154,"y":773},{"p":"c","s":"ax","t":"M","x":-154,"y":773},
{"p":"d","s":"ax","t":"R","x":-158,"y":773},{"p":"e","s":"ax","t":"R","x":-158,"y":773},{"p":"f","s":"ax","t":"R","x":-158,"y":773},
{"p":"a","s":"b","t":"= 100 mm","x":-417,"y":849},{"p":"b","s":"b","t":"= 150 mm","x":-417,"y":869},{"p":"c","s":"b","t":"= 200 mm","x":-417,"y":832},
{"p":"a","s":"b","t":"= 20 nm","x":-276,"y":696},{"p":"b","s":"b","t":"= 20 nm","x":-276,"y":703},{"p":"c","s":"b","t":"= 20 nm","x":-276,"y":666},
{"p":"a","s":"bi","t":"z","x":-417,"y":1200},{"p":"b","s":"bi","t":"z","x":-417,"y":1220},{"p":"c","s":"bi","t":"z","x":-417,"y":1183},
{"p":"a","s":"bi","t":"λ","x":-276,"y":1297},{"p":"b","s":"bi","t":"λ","x":-276,"y":1304},{"p":"c","s":"bi","t":"λ","x":-276,"y":1267},
{"p":"a","s":"fw","t":"FWHM","x":-248,"y":1120},{"p":"b","s":"fw","t":"FWHM","x":-248,"y":1127},{"p":"c","s":"fw","t":"FWHM","x":-248,"y":1090},

{"p":"c","s":"bar","x":-102,"x2":1506,"y":1661,"y2":1751},{"p":"f","s":"bar","x":-63,"x2":1540,"y":1661,"y2":1751},
{"p":"c","s":"tick","x":59,"y":1730,"y2":1751},{"p":"c","s":"tick","x":220,"y":1730,"y2":1751},{"p":"c","s":"tick","x":380,"y":1730,"y2":1751},{"p":"c","s":"tick","x":541,"y":1730,"y2":1751},{"p":"c","s":"tick","x":702,"y":1730,"y2":1751},{"p":"c","s":"tick","x":863,"y":1730,"y2":1751},{"p":"c","s":"tick","x":1024,"y":1730,"y2":1751},{"p":"c","s":"tick","x":1185,"y":1730,"y2":1751},{"p":"c","s":"tick","x":1345,"y":1730,"y2":1751},
{"p":"f","s":"tick","x":97,"y":1730,"y2":1751},{"p":"f","s":"tick","x":258,"y":1730,"y2":1751},{"p":"f","s":"tick","x":418,"y":1730,"y2":1751},{"p":"f","s":"tick","x":578,"y":1730,"y2":1751},{"p":"f","s":"tick","x":739,"y":1730,"y2":1751},{"p":"f","s":"tick","x":899,"y":1730,"y2":1751},{"p":"f","s":"tick","x":1059,"y":1730,"y2":1751},{"p":"f","s":"tick","x":1219,"y":1730,"y2":1751},{"p":"f","s":"tick","x":1380,"y":1730,"y2":1751},
{"p":"c","s":"cb","t":"0.1","x":-158,"y":1885},{"p":"c","s":"cb","t":"0.9","x":1512,"y":1885},{"p":"c","s":"ci","t":"M","x":707,"y":1885},
{"p":"f","s":"cb","t":"0.1","x":-112,"y":1885},{"p":"f","s":"cb","t":"0.9","x":1540,"y":1885},{"p":"f","s":"ci","t":"R","x":737,"y":1885}
]},
"columns":2,
"facet":{"field":"p","sort":["a","d","b","e","c","f"],"header":{"title":null,"labelExpr":"''","labelFontSize":0,"labelPadding":0}},
"spacing":{"row":0,"column":1.3},
"bounds":"flush",
"spec":{
"width":1220,
"height":836.5,
"encoding":{
"x":{"field":"x","type":"quantitative","scale":{"domain":[-517.44,1395.5],"nice":false,"zero":false},"axis":null},
"y":{"field":"y","type":"quantitative","scale":{"domain":[1561.5,0],"nice":false,"zero":false},"axis":null}
},
"layer":[
{"data":{"values":[
{"x":72,"y":565,"x2":811,"y2":40},{"x":72,"y":808,"x2":811,"y2":287},{"x":72,"y":1012,"x2":811,"y2":490},
{"x":443,"y":303,"x2":443,"y2":748},{"x":811,"y":40,"x2":811,"y2":490},
{"x":811,"y":40,"x2":1462,"y2":365},{"x":811,"y":287,"x2":1462,"y2":612},{"x":811,"y":490,"x2":1462,"y2":812},
{"x":1106,"y":187,"x2":1106,"y2":637},{"x":1400,"y":335,"x2":1400,"y2":780},
{"x":365,"y":1157,"x2":1106,"y2":637},{"x":660,"y":1305,"x2":1400,"y2":780},{"x":443,"y":748,"x2":1100,"y2":1075}
]},
"mark":{"type":"rule","color":"#dcdcdc","strokeWidth":2},
"encoding":{"x2":{"field":"x2"},"y2":{"field":"y2"}}},
{"data":{"values":[
{"x":72,"y":565,"x2":72,"y2":1012},{"x":72,"y":1012,"x2":727,"y2":1335},{"x":727,"y":1335,"x2":1462,"y2":812},
{"x":72,"y":565,"x2":52,"y2":555},{"x":72,"y":808,"x2":52,"y2":800},{"x":72,"y":1012,"x2":52,"y2":1022},
{"x":365,"y":1157,"x2":350,"y2":1170},{"x":660,"y":1305,"x2":642,"y2":1318},{"x":727,"y":1335,"x2":742,"y2":1342},
{"x":1095,"y":1075,"x2":1112,"y2":1082},{"x":1462,"y":812,"x2":1478,"y2":820}
]},
"mark":{"type":"rule","color":"#333333","strokeWidth":1.8},
"encoding":{"x2":{"field":"x2"},"y2":{"field":"y2"}}},
{"transform":[{"filter":"isValid(datum.c)"}],
"mark":{"type":"line","order":null,"strokeWidth":3.2,"strokeJoin":"round"},
"encoding":{"detail":{"field":"c"},"stroke":{"field":"c","type":"quantitative","legend":null,"scale":{"domain":[10,18,26,34,42,50,58,66,74,82,90],"range":["#7f00ff","#4a50f5","#20a0f5","#20d8e0","#58f8c8","#80fca8","#a8f088","#e0d070","#ffa858","#ff5a30","#ff0000"]}}}},
{"transform":[{"filter":"isValid(datum.z00)"},
{"fold":["a36","b42","c48","d54","e60","f66","g72","h86","hb","i78","ib","j72","k66","l60","m54","n48","o42","p36","q30","r24","s18","t12","z00"],"as":["k","x"]},
{"window":[{"op":"lead","field":"x","as":"x2"}],"groupby":["p","y"],"sort":[{"field":"k","order":"ascending"}]},
{"filter":"isValid(datum.x) && isValid(datum.x2)"}],
"mark":{"type":"area","orient":"horizontal","interpolate":"monotone","strokeWidth":1},
"encoding":{"x2":{"field":"x2"},
"fill":{"field":"k","type":"nominal","legend":null,"scale":{"domain":["a36","b42","c48","d54","e60","f66","g72","h86","hb","i78","ib","j72","k66","l60","m54","n48","o42","p36","q30","r24","s18","t12"],"range":["#58e6e1","#79f9d3","#91fcbf","#a9f8ac","#c4ec9b","#e6d98d","#f9c17e","#ff3c36","#ff5a45","#ff7e5a","#ffa06b","#f9c17e","#e6d98d","#c4ec9b","#a9f8ac","#91fcbf","#79f9d3","#58e6e1","#4dcaef","#55a9f7","#6e73f7","#8e43fd"]}},
"stroke":{"field":"k","type":"nominal","legend":null,"scale":{"domain":["a36","b42","c48","d54","e60","f66","g72","h86","hb","i78","ib","j72","k66","l60","m54","n48","o42","p36","q30","r24","s18","t12"],"range":["#58e6e1","#79f9d3","#91fcbf","#a9f8ac","#c4ec9b","#e6d98d","#f9c17e","#ff3c36","#ff5a45","#ff7e5a","#ffa06b","#f9c17e","#e6d98d","#c4ec9b","#a9f8ac","#91fcbf","#79f9d3","#58e6e1","#4dcaef","#55a9f7","#6e73f7","#8e43fd"]}}}},
{"transform":[{"filter":"isValid(datum.c)"}],
"mark":{"type":"line","order":null,"strokeWidth":3.2,"opacity":0.5,"strokeJoin":"round"},
"encoding":{"detail":{"field":"c"},"stroke":{"field":"c","type":"quantitative","legend":null,"scale":{"domain":[10,18,26,34,42,50,58,66,74,82,90],"range":["#7f00ff","#4a50f5","#20a0f5","#20d8e0","#58f8c8","#80fca8","#a8f088","#e0d070","#ffa858","#ff5a30","#ff0000"]}}}},
{"data":{"values":[
{"t":"1","x":2,"y":552},{"t":"0.5","x":-34,"y":800},{"t":"1500","x":-56,"y":1105},{"t":"1000","x":240,"y":1252},{"t":"500","x":552,"y":1400},
{"t":"0","x":788,"y":1420},{"t":"5","x":1155,"y":1155},{"t":"10","x":1555,"y":895}
]},
"mark":{"type":"text","fontSize":51,"color":"#262626","baseline":"middle"},
"encoding":{"text":{"field":"t"}}},
{"data":{"values":[{"t":"(fs)","x":192,"y":1475},{"t":"Δ","x":945,"y":1530},{"t":"(nm)","x":1180,"y":1530}]},
"mark":{"type":"text","fontSize":57,"color":"#262626","baseline":"middle"},
"encoding":{"text":{"field":"t"}}},
{"data":{"values":[{"t":"T","x":55,"y":1470},{"t":"λ","x":1040,"y":1530}]},
"mark":{"type":"text","fontSize":57,"fontStyle":"italic","color":"#262626","baseline":"middle"},
"encoding":{"text":{"field":"t"}}},
{"data":{"values":[{"t":"s","x":88,"y":1548}]},
"mark":{"type":"text","fontSize":44,"fontStyle":"italic","color":"#262626","baseline":"middle"},
"encoding":{"text":{"field":"t"}}},
{"transform":[{"filter":"datum.s==='l'"}],
"mark":{"type":"text","fontSize":68,"fontWeight":"bold","color":"black","baseline":"middle"},
"encoding":{"text":{"field":"t"}}},
{"transform":[{"filter":"datum.s==='ax'"}],
"mark":{"type":"text","fontSize":56,"fontStyle":"italic","color":"#262626","baseline":"middle","angle":270},
"encoding":{"text":{"field":"t"}}},
{"transform":[{"filter":"datum.s==='b'"}],
"mark":{"type":"text","fontSize":72,"fontWeight":"bold","color":"black","angle":270},
"encoding":{"text":{"field":"t"}}},
{"transform":[{"filter":"datum.s==='bi'"}],
"mark":{"type":"text","fontSize":72,"fontWeight":"bold","fontStyle":"italic","color":"black","angle":270},
"encoding":{"text":{"field":"t"}}},
{"transform":[{"filter":"datum.s==='fw'"}],
"mark":{"type":"text","fontSize":46,"fontWeight":"bold","fontStyle":"italic","color":"black","angle":270},
"encoding":{"text":{"field":"t"}}},
{"transform":[{"filter":"datum.s==='bar'"}],
"mark":{"type":"rect","stroke":"#8c8c8c","strokeWidth":2,"fill":{"x1":0,"y1":0,"x2":1,"y2":0,"gradient":"linear","stops":[
{"offset":0,"color":"#7f00ff"},{"offset":0.1,"color":"#4a50f5"},{"offset":0.2,"color":"#20a0f5"},{"offset":0.3,"color":"#20d8e0"},{"offset":0.4,"color":"#58f8c8"},{"offset":0.5,"color":"#80fca8"},{"offset":0.6,"color":"#a8f088"},{"offset":0.7,"color":"#e0d070"},{"offset":0.8,"color":"#ffa858"},{"offset":0.9,"color":"#ff5a30"},{"offset":1,"color":"#ff0000"}]}},
"encoding":{"x2":{"field":"x2"},"y2":{"field":"y2"}}},
{"transform":[{"filter":"datum.s==='tick'"}],
"mark":{"type":"rule","color":"#333333","strokeWidth":1.5},
"encoding":{"y2":{"field":"y2"}}},
{"transform":[{"filter":"datum.s==='cb'"}],
"mark":{"type":"text","fontSize":62,"color":"black"},
"encoding":{"text":{"field":"t"}}},
{"transform":[{"filter":"datum.s==='ci'"}],
"mark":{"type":"text","fontSize":62,"fontStyle":"italic","color":"black"},
"encoding":{"text":{"field":"t"}}}
]
}
}
